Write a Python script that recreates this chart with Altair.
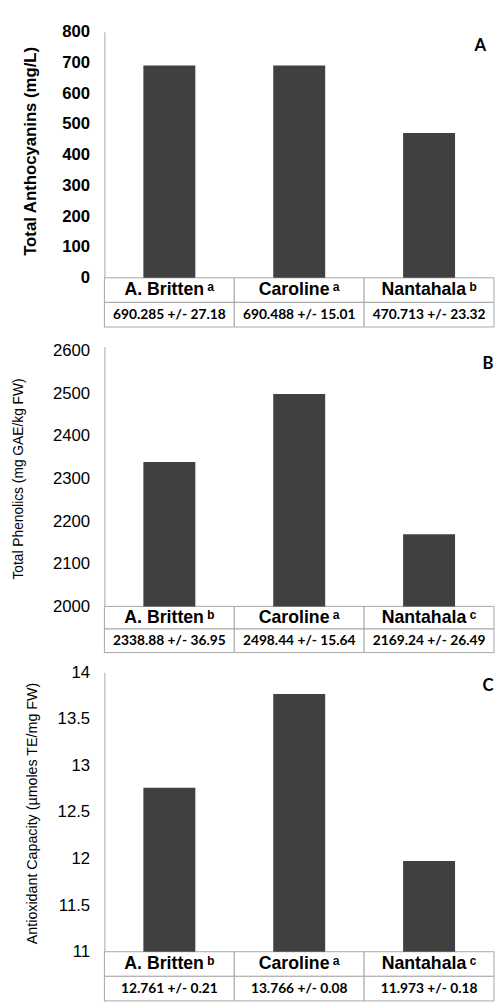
import altair as alt
import pandas as pd

cultivars = ["A. Britten", "Caroline", "Nantahala"]

anth_mean = [690.285, 690.488, 470.713]
anth_sd = [27.18, 15.01, 23.32]
anth_letters = ["a", "a", "b"]

phen_mean = [2338.88, 2498.44, 2169.24]
phen_sd = [36.95, 15.64, 26.49]
phen_letters = ["b", "a", "c"]

anti_mean = [12.761, 13.766, 11.973]
anti_sd = [0.21, 0.08, 0.18]
anti_letters = ["b", "a", "c"]

SUP = {"a": "\u1d43", "b": "\u1d47", "c": "\u1d9c"}

BAR = "#404040"
LINE = "#a6a6a6"
WIDTH = 396
SANS = "Liberation Sans"


def panel(means, sds, letters, ytitle, tag, top, base, step, zero_px, rows,
          pad_top, label_weight, title_size, title_weight, title_x, title_y, tag_xy):
    upp = (top - base) / zero_px
    r1 = base - rows[0] * upp
    r2 = r1 - rows[1] * upp
    dmax = top + pad_top * upp
    height = pad_top + zero_px + rows[0] + rows[1]
    n = int(round((top - base) / step))
    ticks = [round(base + i * step, 4) for i in range(n + 1)]
    df = pd.DataFrame({
        "cultivar": cultivars,
        "value": means,
        "base": [base] * len(cultivars),
        "name": [c + "\u2009" + SUP[l] for c, l in zip(cultivars, letters)],
        "stat": [f"{m} +/- {s}" for m, s in zip(means, sds)],
    })
    xenc = alt.X("cultivar:N", sort=cultivars,
                 scale=alt.Scale(paddingInner=0, paddingOuter=0), axis=None)
    yscale = alt.Scale(domain=[r2, dmax], nice=False, zero=False)
    yaxis = alt.Axis(values=ticks, labelExpr="'' + datum.value", ticks=False, grid=False,
                     labelOverlap=False, labelFlush=False,
                     domainColor=LINE, domainWidth=1, labelFont=SANS, labelFontSize=17,
                     labelFontWeight=label_weight, labelColor="#000", labelPadding=15,
                     title=ytitle, titleFont=SANS, titleFontSize=title_size,
                     titleFontWeight=title_weight, titleColor="#000", titleX=title_x,
                     titleY=title_y, titleBaseline="middle", titleAlign="center")
    base_chart = alt.Chart(df)
    cells1 = base_chart.mark_rect(fill="white", stroke=LINE, strokeWidth=1).encode(
        x=xenc, y=alt.Y(datum=base, scale=yscale, axis=yaxis), y2=alt.datum(r1)
    )
    cells2 = base_chart.mark_rect(fill="white", stroke=LINE, strokeWidth=1).encode(
        x=xenc, y=alt.Y(datum=r1, scale=yscale, axis=yaxis), y2=alt.datum(r2)
    )
    bars = base_chart.mark_bar(color=BAR, width=alt.RelativeBandSize(0.4)).encode(
        x=xenc, y=alt.Y("value:Q", scale=yscale, axis=yaxis), y2="base:Q"
    )
    names = base_chart.mark_text(font=SANS, fontSize=18, fontWeight="bold", color="#000",
                                 baseline="middle").encode(
        x=xenc, y=alt.Y(datum=(base + r1) / 2, scale=yscale, axis=yaxis), text="name:N"
    )
    stats = base_chart.mark_text(font="Lato", fontSize=14, fontWeight="bold", color="#000",
                                 baseline="middle").encode(
        x=xenc, y=alt.Y(datum=(r1 + r2) / 2, scale=yscale, axis=yaxis), text="stat:N"
    )
    tag_text = alt.Chart(pd.DataFrame({"t": [tag]})).mark_text(
        font="Lato", fontSize=17, fontWeight="bold", color="#000", baseline="middle"
    ).encode(x=alt.value(tag_xy[0]), y=alt.value(tag_xy[1]), text="t:N")
    return alt.layer(cells1, cells2, bars, names, stats, tag_text).properties(
        width=WIDTH, height=height)


pA = panel(anth_mean, anth_sd, anth_letters, "Total Anthocyanins (mg/L)", "A",
           800, 0, 100, 250, (25, 25), 0, "bold", 17, "bold", -75, 121, (382, 14))
pB = panel(phen_mean, phen_sd, phen_letters, "Total Phenolics (mg GAE/kg FW)", "B",
           2600, 2000, 100, 260, (23, 24), 4, "normal", 14, "normal", -87, 134, (390, 18))
pC = panel(anti_mean, anti_sd, anti_letters, "Antioxidant Capacity (\u00b5moles TE/mg FW)", "C",
           14, 11, 0.5, 284, (25, 25), 0, "normal", 14.5, "normal", -73, 143, (390, 14))

chart = alt.vconcat(pA, pB, pC, spacing=20, bounds="flush").properties(
    padding={"left": 3, "top": 7, "right": 0, "bottom": 0}
).configure_view(stroke=None)

chart.save("out.html", embed_options={"renderer": "svg", "actions": False})
